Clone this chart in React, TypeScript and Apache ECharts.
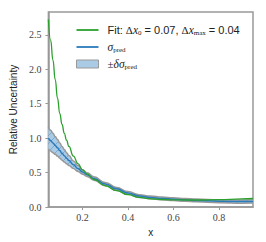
import React, { useEffect, useRef } from "react";
import * as echarts from "echarts";

const xs = [0.05, 0.06, 0.07, 0.08, 0.09, 0.10, 0.11, 0.12, 0.13, 0.14, 0.16, 0.18, 0.20, 0.22, 0.25, 0.30, 0.35, 0.40, 0.45, 0.50, 0.55, 0.60, 0.65, 0.70, 0.80, 0.90, 0.95];
const fitValues = [2.72, 2.42, 2.13, 1.85, 1.58, 1.36, 1.20, 1.07, 0.97, 0.88, 0.74, 0.63, 0.54, 0.48, 0.40, 0.31, 0.24, 0.18, 0.14, 0.12, 0.11, 0.105, 0.103, 0.103, 0.108, 0.118, 0.125];
const sigmaValues = [1.00, 0.965, 0.93, 0.895, 0.86, 0.82, 0.78, 0.745, 0.71, 0.675, 0.615, 0.56, 0.51, 0.47, 0.415, 0.335, 0.265, 0.205, 0.16, 0.14, 0.125, 0.115, 0.105, 0.097, 0.085, 0.08, 0.083];
const deltaValues = [0.16, 0.15, 0.14, 0.13, 0.12, 0.11, 0.10, 0.09, 0.08, 0.072, 0.055, 0.042, 0.032, 0.027, 0.024, 0.022, 0.021, 0.02, 0.02, 0.02, 0.02, 0.02, 0.02, 0.02, 0.021, 0.023, 0.025];
const xTicks = [0.2, 0.4, 0.6, 0.8];
const yTicks = [0, 0.5, 1.0, 1.5, 2.0, 2.5];

function hatchPattern(): string {
  const c = document.createElement("canvas");
  c.width = 8;
  c.height = 8;
  const ctx = c.getContext("2d")!;
  ctx.fillStyle = "#a9cbe6";
  ctx.fillRect(0, 0, 8, 8);
  ctx.strokeStyle = "#7ea9cf";
  ctx.lineWidth = 1;
  ctx.beginPath();
  ctx.moveTo(0, 8);
  ctx.lineTo(8, 0);
  ctx.moveTo(-4, 4);
  ctx.lineTo(4, -4);
  ctx.moveTo(4, 12);
  ctx.lineTo(12, 4);
  ctx.stroke();
  return c.toDataURL();
}

const lineIcon = "path://M0,0 M0,3.1 L22,3.1 L22,4.9 L0,4.9 Z M22,8";

export default function App() {
  const ref = useRef<HTMLDivElement>(null);
  useEffect(() => {
    if (!ref.current) return;
    const chart = echarts.init(ref.current, undefined, { renderer: "svg" });
    const pat = { image: hatchPattern(), repeat: "repeat" as const };
    const lower = xs.map((x, i) => [x, sigmaValues[i] - deltaValues[i]]);
    const upper = xs.map((x, i) => [x, sigmaValues[i] + deltaValues[i]]);
    const sigma = xs.map((x, i) => [x, sigmaValues[i]]);
    const fit = xs.map((x, i) => [x, fitValues[i]]);
    const serif = "Liberation Serif";
    const sans = "Liberation Sans";
    chart.setOption({
      animation: false,
      grid: {
        left: 40,
        right: 13,
        top: 12,
        bottom: 30,
        show: true,
        borderColor: "#999",
        borderWidth: 1.5,
        backgroundColor: "transparent",
      },
      legend: {
        orient: "vertical",
        left: 71,
        top: 19,
        itemWidth: 22,
        itemHeight: 8,
        itemGap: 5,
        data: [
          { name: "fit", icon: lineIcon, itemStyle: { color: "#2ca02c" } },
          { name: "sigma", icon: lineIcon, itemStyle: { color: "#2b7bba" } },
          { name: "band", icon: "rect", itemStyle: { color: "#a9cbe6", borderColor: "#999", borderWidth: 1 } },
        ],
        formatter: (name: string) => {
          if (name === "fit")
            return "{t|Fit: }{m|Δ}{i|x}{s|0}{t| = 0.07, }{m|Δ}{i|x}{s|max}{t| = 0.04}";
          if (name === "sigma") return "{i|σ}{s|pred}";
          return "{m|±}{i|δσ}{s|pred}";
        },
        textStyle: {
          padding: [0, 0, 0, 4],
          lineHeight: 12,
          rich: {
            t: { fontFamily: sans, fontSize: 11, color: "#222", lineHeight: 12 },
            m: { fontFamily: serif, fontSize: 11, color: "#222", lineHeight: 12 },
            i: { fontFamily: serif, fontStyle: "italic", fontSize: 11.5, color: "#222", lineHeight: 12 },
            s: { fontFamily: serif, fontSize: 7, color: "#222", lineHeight: 12, verticalAlign: "bottom", padding: [4, 0, 0, 0] },
          },
        },
      },
      xAxis: {
        type: "value",
        min: 0.05,
        max: 0.95,
        name: "x",
        nameLocation: "middle",
        nameGap: 18,
        nameTextStyle: { fontFamily: sans, fontSize: 10, color: "#222" },
        splitLine: { show: false },
        axisLine: { show: true, lineStyle: { color: "#999", width: 1.5 } },
        axisTick: { show: true, customValues: xTicks, length: 3, lineStyle: { color: "#999", width: 1 } },
        axisLabel: {
          customValues: xTicks,
          margin: 5,
          formatter: (v: number) => v.toFixed(1),
          fontFamily: serif,
          fontSize: 10,
          color: "#444",
        },
      },
      yAxis: {
        type: "value",
        min: 0,
        max: 2.83,
        name: "Relative Uncertainty",
        nameLocation: "middle",
        nameGap: 22,
        nameTextStyle: { fontFamily: sans, fontSize: 10, color: "#222" },
        splitLine: { show: false },
        axisLine: { show: true, lineStyle: { color: "#999", width: 1.5 } },
        axisTick: { show: true, customValues: yTicks, length: 3, lineStyle: { color: "#999", width: 1 } },
        axisLabel: {
          customValues: yTicks,
          margin: 7,
          formatter: (v: number) => v.toFixed(1),
          fontFamily: serif,
          fontSize: 10,
          color: "#444",
        },
      },
      series: [
        {
          name: "band",
          type: "custom",
          data: [[0]],
          itemStyle: { color: "#a9cbe6" },
          renderItem: (_params: any, api: any) => {
            const pts: number[][] = [];
            upper.forEach((p) => pts.push(api.coord(p)));
            for (let i = lower.length - 1; i >= 0; i--) pts.push(api.coord(lower[i]));
            return {
              type: "polygon",
              shape: { points: pts },
              style: { fill: pat as any, stroke: "none" },
              z2: 0,
            };
          },
          z: 1,
        },
        {
          name: "bandLow",
          type: "line",
          data: lower,
          symbol: "none",
          smooth: true,
          smoothMonotone: "x",
          lineStyle: { color: "#999", width: 1.5 },
          z: 2,
        },
        {
          name: "bandHigh",
          type: "line",
          data: upper,
          symbol: "none",
          smooth: true,
          smoothMonotone: "x",
          lineStyle: { color: "#999", width: 1.5 },
          z: 2,
        },
        {
          name: "sigma",
          type: "line",
          data: sigma,
          symbol: "none",
          smooth: true,
          smoothMonotone: "x",
          lineStyle: { color: "#2b7bba", width: 1.5 },
          itemStyle: { color: "#2b7bba" },
          z: 3,
        },
        {
          name: "fit",
          type: "line",
          data: fit,
          symbol: "none",
          smooth: true,
          smoothMonotone: "x",
          lineStyle: { color: "#2ca02c", width: 1.3 },
          itemStyle: { color: "#2ca02c" },
          z: 4,
        },
      ],
    });
    return () => chart.dispose();
  }, []);
  return <div ref={ref} style={{ position: "fixed", left: 0, top: 0, width: 266, height: 242, background: "#fff" }} />;
}
